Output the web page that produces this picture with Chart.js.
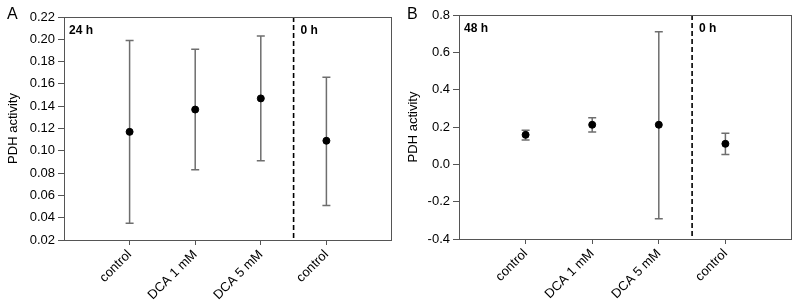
<!DOCTYPE html>
<html>
<head>
<meta charset="utf-8">
<script src="https://cdn.jsdelivr.net/npm/chart.js@4.4.1/dist/chart.umd.min.js"></script>
<style>
  body { margin: 0; background: #fff; }
  .panel { position: absolute; top: 0; width: 400px; height: 302px; }
</style>
</head>
<body>
<div class="panel" style="left:0"><canvas id="chart-a"></canvas></div>
<div class="panel" style="left:400px"><canvas id="chart-b"></canvas></div>
<script>
// Categories and their positions on the x axis
const categories = ['control', 'DCA 1 mM', 'DCA 5 mM', 'control'];
const xPos = [1, 2, 3, 4];
const dividerX = 3.5;

// Panel A (24 h)
const meanA = [0.117, 0.137, 0.147, 0.109];
const upperA = [0.199, 0.191, 0.203, 0.166];
const lowerA = [0.035, 0.083, 0.091, 0.051];
const ticksA = [0.02, 0.04, 0.06, 0.08, 0.10, 0.12, 0.14, 0.16, 0.18, 0.20, 0.22];

// Panel B (48 h)
const meanB = [0.158, 0.212, 0.212, 0.110];
const upperB = [0.183, 0.249, 0.710, 0.167];
const lowerB = [0.131, 0.173, -0.292, 0.053];
const ticksB = [-0.4, -0.2, 0.0, 0.2, 0.4, 0.6, 0.8];

const FONT = 'Liberation Sans, Arial, sans-serif';

// draws frame, error bars, divider and period labels
const extrasPlugin = {
    id: 'extras',
    beforeDatasetsDraw(chart, args, opts) {
        const { ctx, chartArea: a, scales: { x, y } } = chart;
        ctx.save();
        // error bars
        ctx.strokeStyle = '#6e6e6e';
        ctx.lineWidth = 1.5;
        opts.upper.forEach((hi, i) => {
            const px = x.getPixelForValue(xPos[i]);
            const top = y.getPixelForValue(hi);
            const bot = y.getPixelForValue(opts.lower[i]);
            ctx.beginPath();
            ctx.moveTo(px, top); ctx.lineTo(px, bot);
            ctx.moveTo(px - 4, top); ctx.lineTo(px + 4, top);
            ctx.moveTo(px - 4, bot); ctx.lineTo(px + 4, bot);
            ctx.stroke();
        });
        // divider
        const dx = x.getPixelForValue(dividerX);
        ctx.strokeStyle = '#000';
        ctx.lineWidth = 1.6;
        ctx.setLineDash([5, 3]);
        ctx.beginPath();
        ctx.moveTo(dx, a.top); ctx.lineTo(dx, a.bottom);
        ctx.stroke();
        ctx.setLineDash([]);
        // frame
        ctx.strokeStyle = '#555';
        ctx.lineWidth = 1;
        ctx.strokeRect(a.left + 0.5, a.top + 0.5, a.right - a.left - 1, a.bottom - a.top);
        // period labels
        ctx.fillStyle = '#000';
        ctx.font = 'bold 12px ' + FONT;
        ctx.textBaseline = 'top';
        ctx.fillText(opts.leftLabel, a.left + 5, a.top + 8);
        ctx.fillText('0 h', dx + 7, a.top + 8);
        // panel letter
        ctx.font = '16px ' + FONT;
        ctx.textBaseline = 'alphabetic';
        ctx.fillText(opts.letter, 7, 19);
        ctx.restore();
    }
};

function makeChart(id, mean, upper, lower, ticks, decimals, pad, letter, leftLabel) {
    return new Chart(document.getElementById(id), {
        type: 'scatter',
        data: {
            datasets: [{
                data: xPos.map((v, i) => ({ x: v, y: mean[i] })),
                backgroundColor: '#000',
                borderColor: '#000',
                pointRadius: 3.5,
                pointHoverRadius: 3.5
            }]
        },
        options: {
            responsive: false,
            animation: false,
            layout: { padding: { left: 0, right: pad.right, top: pad.top, bottom: 0 } },
            plugins: {
                legend: { display: false },
                tooltip: { enabled: false },
                extras: { upper: upper, lower: lower, letter: letter, leftLabel: leftLabel }
            },
            scales: {
                x: {
                    type: 'linear',
                    min: 0,
                    max: 5,
                    afterBuildTicks: s => { s.ticks = xPos.map(v => ({ value: v })); },
                    afterFit: s => { s.height = pad.xh; },
                    border: { display: false },
                    grid: { drawOnChartArea: false, tickLength: 5, color: '#555' },
                    ticks: {
                        callback: (v) => categories[xPos.indexOf(v)],
                        minRotation: 45,
                        maxRotation: 45,
                        color: '#000',
                        font: { family: FONT, size: 13 },
                        padding: 2
                    }
                },
                y: {
                    min: ticks[0],
                    max: ticks[ticks.length - 1],
                    afterBuildTicks: s => { s.ticks = ticks.map(v => ({ value: v })); },
                    afterFit: s => { s.width = pad.yw; },
                    border: { display: false },
                    grid: { drawOnChartArea: false, tickLength: 6, color: '#555' },
                    ticks: {
                        callback: v => v.toFixed(decimals),
                        color: '#000',
                        font: { family: FONT, size: 13 },
                        padding: 3
                    },
                    title: {
                        display: true,
                        text: 'PDH activity',
                        color: '#000',
                        font: { family: FONT, size: 13 },
                        padding: { top: 6, bottom: 0 }
                    }
                }
            }
        },
        plugins: [extrasPlugin]
    });
}

function sizeCanvas(id) {
    const c = document.getElementById(id);
    c.width = 400; c.height = 302;
    c.style.width = '400px'; c.style.height = '302px';
}
sizeCanvas('chart-a');
sizeCanvas('chart-b');

makeChart('chart-a', meanA, upperA, lowerA, ticksA, 2,
    { right: 8, top: 17, xh: 62, yw: 64 }, 'A', '24 h');
makeChart('chart-b', meanB, upperB, lowerB, ticksB, 1,
    { right: 8, top: 15, xh: 63, yw: 59 }, 'B', '48 h');
</script>
</body>
</html>
